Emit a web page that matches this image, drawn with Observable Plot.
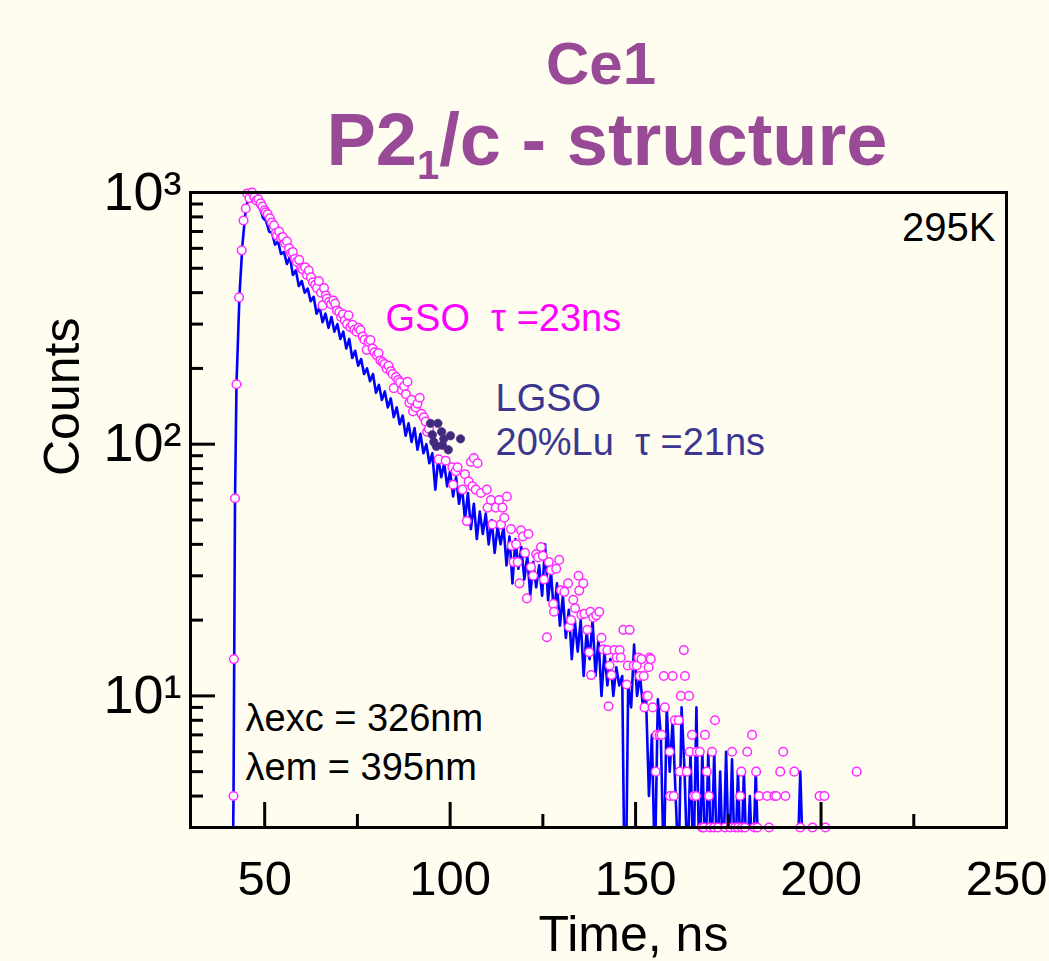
<!DOCTYPE html>
<html><head><meta charset="utf-8">
<script src="https://cdn.jsdelivr.net/npm/d3@7"></script>
<script src="https://cdn.jsdelivr.net/npm/@observablehq/plot@0.6"></script>
<style>
html,body{margin:0;padding:0;background:#fffdf0;}
#wrap{position:relative;width:1049px;height:961px;overflow:hidden;font-family:"Liberation Sans",Arial,sans-serif;background:#fffdf0;}
#chart{position:absolute;left:0;top:0;}
.ttl{position:absolute;color:#994a96;font-weight:bold;white-space:nowrap;transform:translateX(-50%);z-index:2;}
#t1{left:601px;top:34px;font-size:60px;line-height:60px;}
#t2{left:607px;top:103px;font-size:74px;line-height:74px;}
#t2 sub{font-size:0.54em;vertical-align:-0.34em;line-height:0;}
</style></head>
<body>
<div id="wrap">
  <div id="chart"></div>
  <div class="ttl" id="t1">Ce1</div>
  <div class="ttl" id="t2">P2<sub>1</sub>/c - structure</div>
</div>
<script>
// ---- data ----
const xTicks = [50, 100, 150, 200, 250];
const xMinorTicks = [75, 125, 175, 225];
const yTicks = [10, 100, 1000];
const yTickLabels = ["10¹", "10²", "10³"];
const yMinorTicks = [4, 5, 6, 7, 8, 9, 20, 30, 40, 50, 60, 70, 80, 90, 200, 300, 400, 500, 600, 700, 800, 900];

// LGSO 20%Lu (blue line): time (ns) and counts
const lgsoTime = [
  41.2,41.6,42.0,42.4,43.2,44.0,44.8,45.6,46.4,
  47.2,48.0,48.8,49.6,50.4,51.2,52.0,52.8,53.6,54.4,
  55.2,56.0,56.8,57.6,58.4,59.2,60.0,60.8,61.6,62.4,
  63.2,64.0,64.8,65.6,66.4,67.2,68.0,68.8,69.6,70.4,
  71.2,72.0,72.8,73.6,74.4,75.2,76.0,76.8,77.6,78.4,
  79.2,80.0,80.8,81.6,82.4,83.2,84.0,84.8,85.6,86.4,
  87.2,88.0,88.8,89.6,90.4,91.2,92.0,92.8,93.6,94.4,
  95.2,96.0,96.8,97.6,98.4,99.2,100.0,100.8,101.6,102.4,
  103.2,104.0,104.8,105.6,106.4,107.2,108.0,108.8,109.6,110.4,
  111.2,112.0,112.8,113.6,114.4,115.2,116.0,116.8,117.6,118.4,
  119.2,120.0,120.8,121.6,122.4,123.2,124.0,124.8,125.6,126.4,
  127.2,128.0,128.8,129.6,130.4,131.2,132.0,132.8,133.6,134.4,
  135.2,136.0,136.8,137.6,138.4,139.2,140.0,140.8,141.6,142.4,
  143.2,144.0,144.8,145.6,146.4,147.2,148.0,148.8,149.6,150.4,
  151.2,152.0,152.8,153.6,154.4,155.2,156.0,156.8,157.6,158.4,
  159.2,160.0,160.8,161.6,162.4,163.2,164.0,164.8,165.6,166.4,
  167.2,168.0,168.8,169.6,170.4,171.2,172.0,172.8,173.6,174.4,
  175.2,176.0,176.8,177.6,178.4,179.2,180.0,180.8,181.6,182.4,
  183.2,184.0,184.8,185.6,186.4,187.2,188.0,188.8,189.6,190.4,
  191.2,192.0,192.8,193.6,194.4,195.2,196.0,196.8,197.6,198.4,
  199.2,200.0,200.8,201.6,202.4,203.2,204.0,204.8,205.6,206.4,
  207.2,208.0,208.8,209.6,210.4,211.2,212.0,212.8,213.6
];
const lgsoCounts = [
  1,4,60,173,390,620,830,960,1000,
  950,890,860,790,770,700,690,620,640,570,
  580,520,555,470,490,425,445,400,415,370,
  385,330,350,305,330,290,320,280,300,262,
  280,240,262,220,235,205,218,190,200,178,
  190,160,172,150,162,140,152,128,140,120,
  130,108,121,102,116,95,110,92,100,84,
  92,66,88,74,84,68,78,62,74,58,
  68,50,64,46,58,42,54,44,53,40,
  50,37,47,40,47,33,43,28,42,32,
  39,29,36,25,34,27,33,25,40,24,
  31,21,28,19,25,17,22,14,20,15,
  20,12,18,14,20,12,17,10,15,11,
  14,10,13,11,12,1,11,9,16,10,
  12,9,10,4,7,2,9.7,7,2,9,
  5,8,4,2,9,5,2,6,2,9,
  2,6,2,6,2,6,2,5,2,6,
  2,5.6,2,5,2,5,2,4,2,5,
  2,2,3,2,2,3,2,2,2,2,
  2,2,3,2,5,2,2,2,2,2,
  2,3,2,2,2,2,2,2,2,2,
  2,2,2,2,2,2,2,3,2
];

// GSO (magenta open circles): [time ns, counts]
const gsoPoints = [
  [41.6,4],[41.7,14],[42.0,61],[42.4,173],[43.1,383],[43.8,589],[44.3,774],[44.9,864],[45.3,990],[45.9,950],
  [46.6,1000],[47.2,960],[47.8,930],[48.3,940],[48.9,905],[49.4,880],[50.0,850],[50.3,835],[50.8,820],[51.4,790],
  [51.9,760],[52.5,740],[53.0,690],[53.3,675],[53.9,700],[54.4,660],[54.9,665],[55.5,630],[56.0,640],[56.6,600],
  [57.1,575],[57.6,580],[58.2,545],[58.7,530],[59.3,540],[59.8,500],[60.3,495],[60.9,505],[61.4,470],[61.9,490],
  [62.5,460],[63.0,440],[63.6,430],[64.1,417],[64.6,445],[65.2,400],[65.6,356],[66.0,417],[66.5,390],[66.8,379],
  [67.4,368],[67.9,360],[68.5,372],[69.0,362],[69.5,340],[70.1,335],[70.6,320],[71.1,328],[71.6,310],[72.2,300],
  [72.6,325],[73.1,292],[73.7,298],[74.2,285],[74.8,280],[75.3,290],[75.8,284],[76.4,268],[76.9,260],[77.5,237],
  [78.0,255],[78.5,259],[79.1,240],[79.6,232],[80.2,226],[80.7,230],[81.2,215],[81.8,212],[82.3,208],[82.9,200],
  [83.4,205],[84.0,195],[84.5,190],[84.8,167],[85.4,185],[86.0,180],[86.5,176],[87.0,164],[87.6,170],[88.1,158],
  [88.5,177],[89.0,146],[89.6,150],[90.0,135],[90.7,140],[91.2,145],[91.8,153],[92.3,132],[92.9,128],[93.4,123],
  [93.8,112],[94.3,115],[96.9,87],[98.8,86],[100.6,81],[100.8,69],[101.5,78],[102.0,81],[103.3,66],[104.0,76],
  [104.5,49.5],[105.0,71],[105.6,85],[106.0,68],[106.4,88],[106.9,66],[107.4,84],[108.3,64],[109.9,66],[110.1,56],
  [111.0,60],[111.4,48],[112.3,56],[113.2,60],[113.7,48],[114.1,56],[114.6,51],[115.3,62],[116.4,46],[116.6,39.5],
  [117.1,34],[117.8,40],[118.2,34],[118.7,28],[119.1,45.5],[119.6,43],[120.2,37],[120.7,24.4],[121.1,44],[121.8,32.5],
  [122.4,30],[123.2,36.5],[123.7,35.5],[124.5,39],[125.0,36],[125.3,29],[126.1,17.1],[126.6,34],[127.2,31.6],[127.8,23.2],
  [128.0,21.6],[128.6,32],[129.4,34.7],[129.9,26.3],[130.8,25.9],[131.8,28],[132.1,18.8],[132.6,20],[133.2,24.1],[133.7,22.3],
  [134.6,30],[134.8,26.2],[135.4,21],[135.9,28],[136.2,21.2],[137.0,18.3],[137.5,14.9],[137.8,21.6],[138.0,12.1],[138.6,20.5],
  [139.4,20.9],[140.2,21.6],[140.8,17],[141.3,15.3],[142.4,15.2],[142.7,9.1],[143.0,13.2],[143.5,12.1],[144.3,15.2],[144.9,14.2],
  [145.7,15.2],[146.0,14.2],[146.7,18.3],[147.6,11.1],[147.9,13.2],[148.4,18.3],[149.5,13.2],[150.3,13.2],[150.8,14.2],[151.1,12],
  [151.6,14],[152.2,12],[152.4,9],[153.0,10],[153.3,10],[153.5,13],[153.8,14.2],[154.1,14],[154.6,9],[155.4,5],
  [155.7,7],[156.5,7],[157.0,7],[157.6,12],[157.9,9],[159.2,6],[159.3,4],[160.0,12],[160.3,4],[160.6,8],
  [161.6,8],[161.9,5],[162.2,10],[163.0,15.2],[163.3,12],[163.8,5],[164.4,10],[164.6,6],[165.2,7],[165.7,4],
  [166.3,4],[166.5,6],[167.3,6],[167.9,3],[168.4,3],[168.7,7],[169.2,5],[169.8,4],[170.1,3],[170.6,6],
  [171.1,3],[171.4,8],[172.2,3],[174.1,3],[175.5,3],[176.0,6],[176.8,3],[177.6,3],[178.2,4],[178.5,5],
  [178.7,3],[179.5,3],[180.1,6],[181.4,7],[182.0,3],[182.5,5],[182.8,3],[183.3,4],[185.5,4],[186.0,3],
  [187.4,4],[187.9,4],[189.0,5],[189.8,6],[190.4,4],[192.8,5],[194.4,3],[197.7,3],[199.6,4],[200.9,4],
  [201.2,3],[209.6,5]
];

// dark filled points (overlay near t = 95-103 ns): [time ns, counts]
const darkPoints = [
  [94.7,121],[96.7,121],[95.2,109],[97.7,112],[95.6,102],[98.3,105],[100.1,108],[96.3,98],[97.9,99],[99.5,95],[102.8,105]
];

// ---- build tables ----
const lgso = lgsoTime.map((t, i) => ({t, c: lgsoCounts[i]}));
const gso = gsoPoints.map(([t, c]) => ({t, c}));
const dark = darkPoints.map(([t, c]) => ({t, c}));

const W = 1049, H = 961;
const mL = 190, mR = 43, mT = 192, mB = 134;
const frameW = W - mL - mR, frameH = H - mT - mB;
const FONT = "Liberation Sans, Arial, sans-serif";

const chart = Plot.plot({
  width: W, height: H,
  marginLeft: mL, marginRight: mR, marginTop: mT, marginBottom: mB,
  style: {fontFamily: FONT, background: "transparent", overflow: "visible", color: "black"},
  x: {domain: [30, 250]},
  y: {type: "log", domain: [3, 1000]},
  marks: [
    Plot.line(lgso, {x: "t", y: "c", stroke: "#0000ff", strokeWidth: 2.6, strokeLinejoin: "round", clip: true}),
    Plot.dot(gso, {x: "t", y: "c", r: 4.3, stroke: "#ff2bff", fill: "#ffffff", strokeWidth: 1.5}),
    Plot.dot(dark, {x: "t", y: "c", r: 4.2, fill: "#3d2c7c", stroke: "#5a2f8c", strokeWidth: 0.8}),
    // inward tick marks
    Plot.tickX(xTicks, {x: d => d, stroke: "black", strokeWidth: 3, insetTop: frameH - 25}),
    Plot.tickX(xMinorTicks, {x: d => d, stroke: "black", strokeWidth: 3, insetTop: frameH - 13}),
    Plot.tickY(yTicks, {y: d => d, stroke: "black", strokeWidth: 3, insetRight: frameW - 25}),
    Plot.tickY(yMinorTicks, {y: d => d, stroke: "black", strokeWidth: 3, insetRight: frameW - 13}),
    Plot.frame({stroke: "black", strokeWidth: 3}),
    Plot.axisX({ticks: xTicks, tickSize: 0, tickPadding: 33, fontSize: 49, label: null, tickFormat: d => String(d)}),
    Plot.axisY({ticks: yTicks, tickSize: 0, tickPadding: 9, fontSize: 54, label: null,
      tickFormat: d => yTickLabels[yTicks.indexOf(d)]}),
    // axis titles
    Plot.text(["Counts"], {text: d => d, frameAnchor: "left", rotate: -90, dx: -128, dy: -34, fontSize: 50, fill: "black"}),
    Plot.text(["Time, ns"], {text: d => d, frameAnchor: "bottom", lineAnchor: "top", dx: 35, dy: 88, fontSize: 50, fill: "black"}),
    // annotations
    Plot.text(["295K"], {text: d => d, frameAnchor: "top-right", textAnchor: "end", dx: -11, dy: 20, fontSize: 40, fill: "black"}),
    Plot.text(["GSO\u00a0\u00a0τ\u00a0=23ns"], {text: d => d, frameAnchor: "top-left", textAnchor: "start", dx: 195, dy: 112, fontSize: 38, fill: "#ff00ff"}),
    Plot.text(["LGSO"], {text: d => d, frameAnchor: "top-left", textAnchor: "start", dx: 305, dy: 192, fontSize: 38, fill: "#3b3791"}),
    Plot.text(["20%Lu\u00a0\u00a0τ\u00a0=21ns"], {text: d => d, frameAnchor: "top-left", textAnchor: "start", dx: 305, dy: 236, fontSize: 38, fill: "#3b3791"}),
    Plot.text(["λexc = 326nm"], {text: d => d, frameAnchor: "top-left", textAnchor: "start", dx: 55, dy: 512, fontSize: 38, fill: "black"}),
    Plot.text(["λem = 395nm"], {text: d => d, frameAnchor: "top-left", textAnchor: "start", dx: 55, dy: 561, fontSize: 38, fill: "black"})
  ]
});
document.getElementById("chart").appendChild(chart);
</script>
</body></html>
